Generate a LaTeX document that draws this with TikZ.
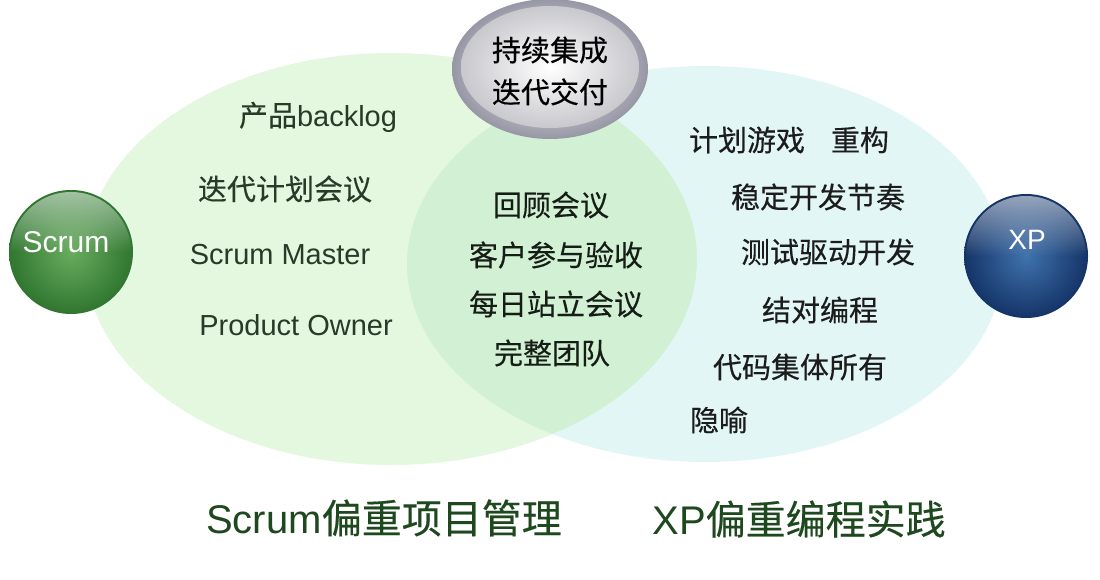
\documentclass[tikz,border=0pt]{standalone}
\usepackage{fontspec}
\setmainfont{Liberation Sans}
\newfontfamily\cjk[FakeBold=0.3]{Noto Sans CJK SC}
\usetikzlibrary{shapes.geometric,fadings}
\tikzfading[name=glowfade, top color=transparent!45, bottom color=transparent!100]
\definecolor{leftfill}{RGB}{228,248,224}
\definecolor{rightfill}{RGB}{226,246,245}
\definecolor{interfill}{RGB}{210,241,212}
\definecolor{lefttext}{RGB}{40,58,40}
\definecolor{midtext}{RGB}{22,28,22}
\definecolor{righttext}{RGB}{28,28,28}
\definecolor{bottomtext}{RGB}{30,72,30}
\definecolor{greenin}{RGB}{104,172,94}
\definecolor{greenout}{RGB}{48,118,48}
\definecolor{bluein}{RGB}{64,114,172}
\definecolor{blueout}{RGB}{20,52,104}
\definecolor{ringgray}{RGB}{150,150,165}
\definecolor{innergray}{RGB}{200,200,205}
\begin{document}
\begin{tikzpicture}[x=1pt,y=-1pt,
  setshape/.style={ellipse, inner sep=0pt, draw=none},
  item/.style={font=\fontsize{29}{34}\selectfont, inner sep=0pt, anchor=center},
  lefttxt/.style={item, text=lefttext},
  midtxt/.style={item, text=midtext},
  righttxt/.style={item, text=righttext},
  bottomtxt/.style={font=\fontsize{40}{46}\selectfont, inner sep=0pt, text=bottomtext},
  balltxt/.style={inner sep=0pt, text=white},
  ball/.style={circle, inner sep=0pt, minimum size=124pt, draw=none},
  gloss/.style={white, path fading=glowfade}]
\useasboundingbox (0,0) rectangle (1100,580);
\fill[white] (0,0) rectangle (1100,580);

% the two sets
\node[setshape, fill=leftfill, minimum width=612pt, minimum height=412pt] (scrumset) at (391,259) {};
\node[setshape, fill=rightfill, minimum width=596pt, minimum height=396pt] (xpset) at (705,264) {};
\begin{scope}
  \clip (705,264) ellipse [x radius=298pt, y radius=198pt];
  \fill[interfill] (391,259) ellipse [x radius=306pt, y radius=206pt];
\end{scope}

% silver badge
\node[setshape, minimum width=196pt, minimum height=140pt, shading=radial,
      inner color=white, outer color=ringgray] (ring) at (550,69) {};
\node[setshape, minimum width=178pt, minimum height=122pt, shading=radial,
      inner color=white, outer color=innergray] (badge) at (550,67) {};
\node[item, text=black, align=center, font=\fontsize{29}{42}\selectfont\cjk] (badgetxt) at (550,71) {持续集成\\迭代交付};

% Scrum ball
\node[ball, shading=radial, inner color=greenin, outer color=greenout] (scrumball) at (71,252) {};
\begin{scope}
  \clip (71,252) circle [radius=60pt];
  \fill[gloss] (9,192) rectangle (133,252);
\end{scope}
\node[balltxt, font=\fontsize{30}{34}\selectfont] (scrumlabel) at (66,242) {Scrum};

% XP ball
\node[ball, shading=radial, inner color=bluein, outer color=blueout] (xpball) at (1026,256) {};
\begin{scope}
  \clip (1026,256) circle [radius=60pt];
  \fill[gloss] (964,196) rectangle (1088,256);
\end{scope}
\node[balltxt, font=\fontsize{28}{32}\selectfont] (xplabel) at (1027,240) {XP};

% Scrum-only items
\node[lefttxt] (backlog) at (318,117) {{\cjk 产品}backlog};
\node[lefttxt] (planning) at (285,189) {\cjk 迭代计划会议};
\node[lefttxt] (master) at (280,255) {Scrum Master};
\node[lefttxt] (owner) at (296,325) {Product Owner};

% shared items
\node[midtxt] (retro) at (551,205) {\cjk 回顾会议};
\node[midtxt] (accept) at (556,255) {\cjk 客户参与验收};
\node[midtxt] (standup) at (556,304) {\cjk 每日站立会议};
\node[midtxt] (team) at (552,353) {\cjk 完整团队};

% XP-only items
\node[righttxt] (game) at (789,140) {\cjk 计划游戏\hspace{26pt}重构};
\node[righttxt] (pace) at (818,197) {\cjk 稳定开发节奏};
\node[righttxt] (tdd) at (828,252) {\cjk 测试驱动开发};
\node[righttxt] (pair) at (820,310) {\cjk 结对编程};
\node[righttxt] (owner2) at (800,367) {\cjk 代码集体所有};
\node[righttxt] (metaphor) at (719,420) {\cjk 隐喻};

% bottom captions
\node[bottomtxt] (scrumfocus) at (384,518) {Scrum{\cjk 偏重项目管理}};
\node[bottomtxt] (xpfocus) at (799,519) {XP{\cjk 偏重编程实践}};
\end{tikzpicture}
\end{document}
